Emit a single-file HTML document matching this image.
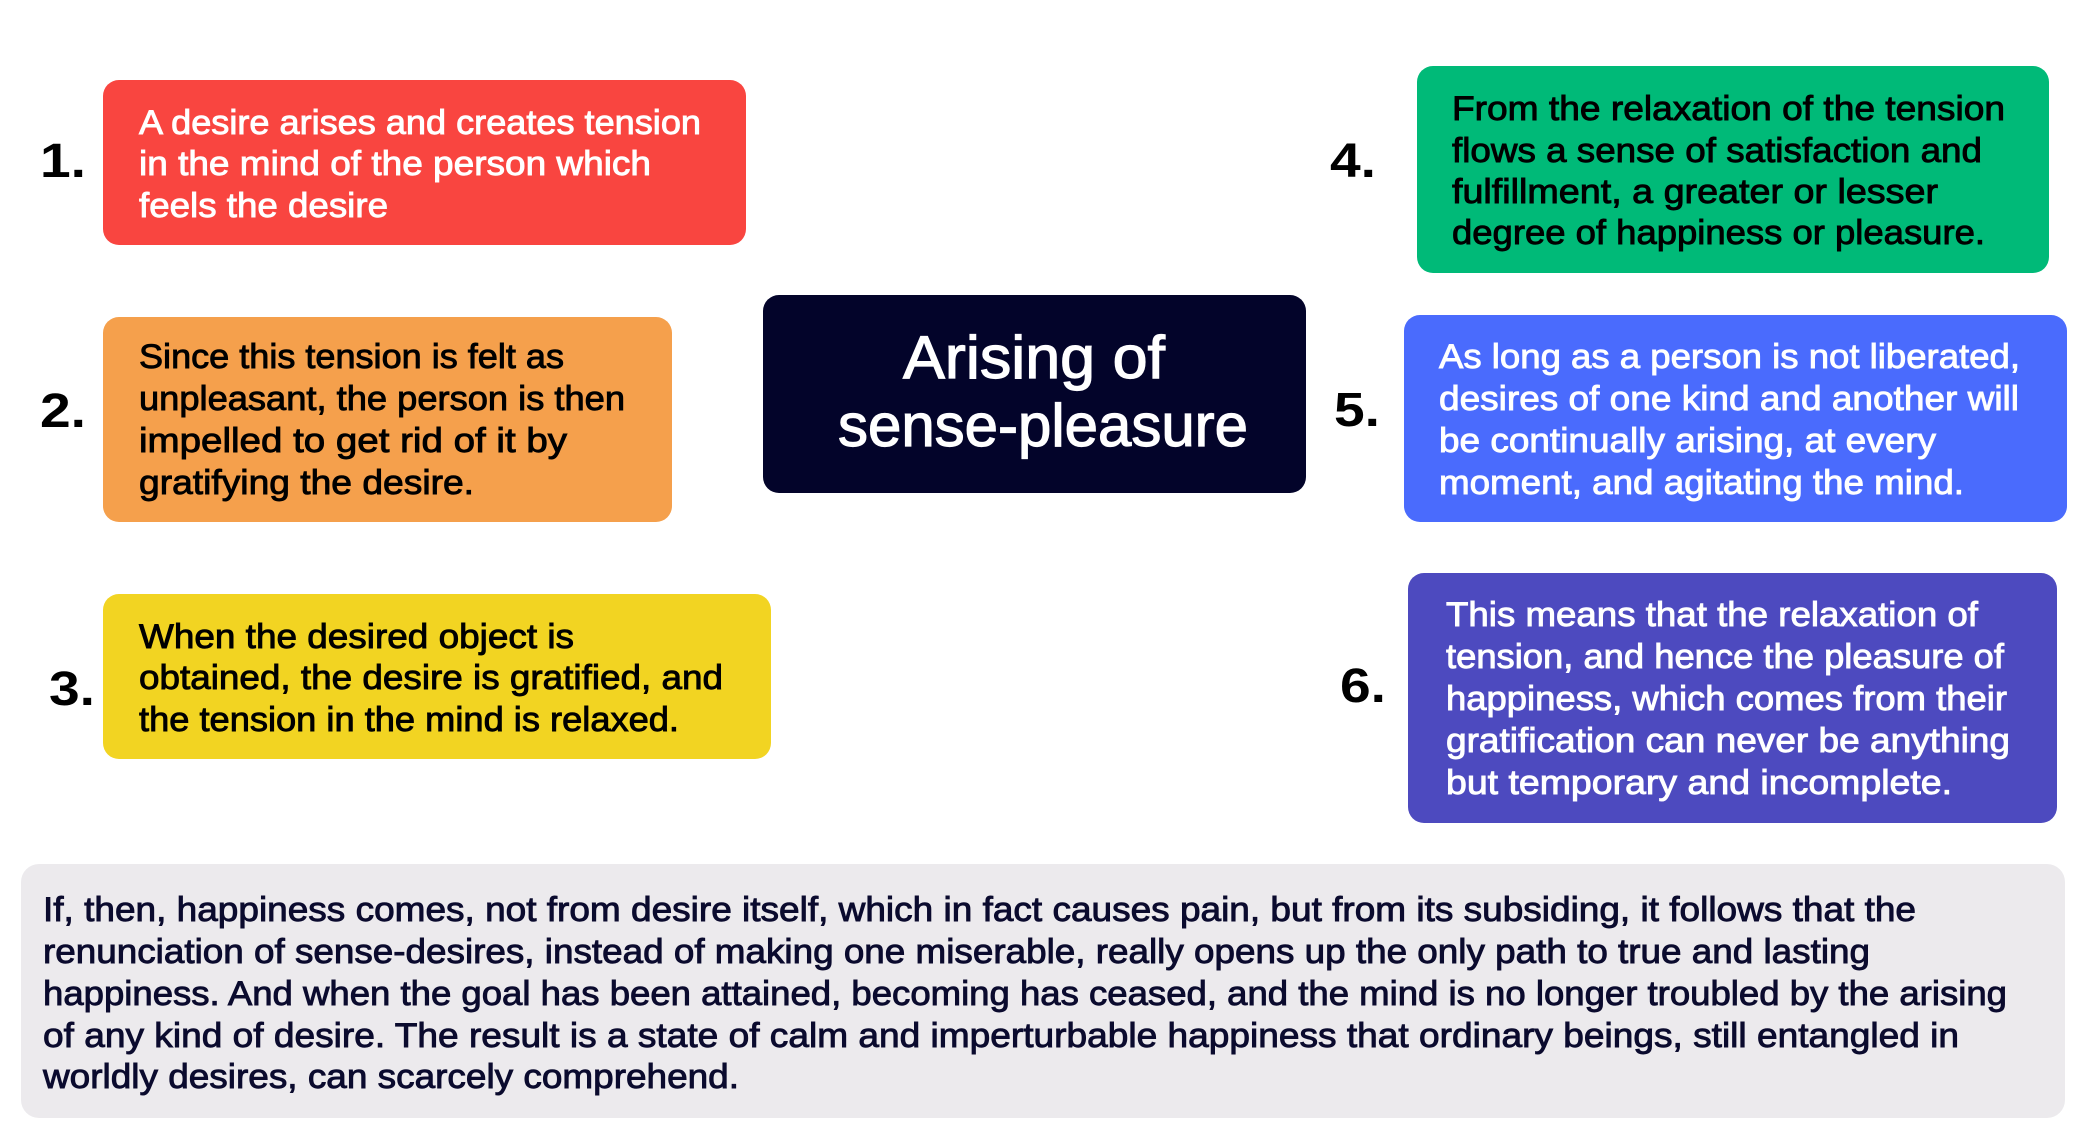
<!DOCTYPE html>
<html>
<head>
<meta charset="utf-8">
<style>
html,body{margin:0;padding:0;background:#fff;}
svg{display:block;}
text{font-family:"Liberation Sans",sans-serif;}
.w{fill:#fff;stroke:#fff;stroke-width:0.9;font-size:34px;}
.b{fill:#000;stroke:#000;stroke-width:0.9;font-size:34px;}
.g{fill:#0b0b2e;stroke:#0b0b2e;stroke-width:0.9;font-size:34px;}
.n{fill:#000;font-weight:bold;font-size:48px;}
</style>
</head>
<body>
<svg width="2095" height="1145" viewBox="0 0 2095 1145" xmlns="http://www.w3.org/2000/svg">
<rect x="0" y="0" width="2095" height="1145" fill="#fff"/>

<!-- boxes -->
<rect x="103" y="80" width="643" height="165" rx="16" fill="#F94540"/>
<rect x="103" y="317" width="569" height="205" rx="16" fill="#F5A04C"/>
<rect x="103" y="594" width="668" height="165" rx="16" fill="#F2D422"/>
<rect x="763" y="295" width="543" height="198" rx="16" fill="#03042A"/>
<rect x="1417" y="66" width="632" height="207" rx="16" fill="#00BA78"/>
<rect x="1404" y="315" width="663" height="207" rx="16" fill="#4A6BFD"/>
<rect x="1408" y="573" width="649" height="250" rx="16" fill="#4D4ABF"/>
<rect x="21" y="864" width="2044" height="254" rx="18" fill="#ECEAED"/>

<!-- numbers -->
<text class="n" x="40" y="177" textLength="46" lengthAdjust="spacingAndGlyphs">1.</text>
<text class="n" x="40" y="427" textLength="46" lengthAdjust="spacingAndGlyphs">2.</text>
<text class="n" x="49" y="705" textLength="46" lengthAdjust="spacingAndGlyphs">3.</text>
<text class="n" x="1330" y="177" textLength="46" lengthAdjust="spacingAndGlyphs">4.</text>
<text class="n" x="1334" y="426" textLength="46" lengthAdjust="spacingAndGlyphs">5.</text>
<text class="n" x="1340" y="702" textLength="46" lengthAdjust="spacingAndGlyphs">6.</text>

<!-- 1 red -->
<text class="w" x="139" y="134" textLength="562" lengthAdjust="spacingAndGlyphs">A desire arises and creates tension</text>
<text class="w" x="139" y="175" textLength="512" lengthAdjust="spacingAndGlyphs">in the mind of the person which</text>
<text class="w" x="139" y="217" textLength="249" lengthAdjust="spacingAndGlyphs">feels the desire</text>

<!-- 2 orange -->
<text class="b" x="139" y="368" textLength="425" lengthAdjust="spacingAndGlyphs">Since this tension is felt as</text>
<text class="b" x="139" y="410" textLength="486" lengthAdjust="spacingAndGlyphs">unpleasant, the person is then</text>
<text class="b" x="139" y="452" textLength="428" lengthAdjust="spacingAndGlyphs">impelled to get rid of it by</text>
<text class="b" x="139" y="494" textLength="335" lengthAdjust="spacingAndGlyphs">gratifying the desire.</text>

<!-- 3 yellow -->
<text class="b" x="139" y="648" textLength="435" lengthAdjust="spacingAndGlyphs">When the desired object is</text>
<text class="b" x="139" y="689" textLength="584" lengthAdjust="spacingAndGlyphs">obtained, the desire is gratified, and</text>
<text class="b" x="139" y="731" textLength="540" lengthAdjust="spacingAndGlyphs">the tension in the mind is relaxed.</text>

<!-- center -->
<text x="903" y="378" textLength="262" lengthAdjust="spacingAndGlyphs" style="fill:#fff;stroke:#fff;stroke-width:1.2;font-size:60px;">Arising of</text>
<text x="838" y="446" textLength="410" lengthAdjust="spacingAndGlyphs" style="fill:#fff;stroke:#fff;stroke-width:1.2;font-size:60px;">sense-pleasure</text>

<!-- 4 green -->
<text class="b" x="1452" y="120" textLength="553" lengthAdjust="spacingAndGlyphs">From the relaxation of the tension</text>
<text class="b" x="1452" y="162" textLength="530" lengthAdjust="spacingAndGlyphs">flows a sense of satisfaction and</text>
<text class="b" x="1452" y="203" textLength="486" lengthAdjust="spacingAndGlyphs">fulfillment, a greater or lesser</text>
<text class="b" x="1452" y="244" textLength="533" lengthAdjust="spacingAndGlyphs">degree of happiness or pleasure.</text>

<!-- 5 blue -->
<text class="w" x="1439" y="368" textLength="581" lengthAdjust="spacingAndGlyphs">As long as a person is not liberated,</text>
<text class="w" x="1439" y="410" textLength="580" lengthAdjust="spacingAndGlyphs">desires of one kind and another will</text>
<text class="w" x="1439" y="452" textLength="497" lengthAdjust="spacingAndGlyphs">be continually arising, at every</text>
<text class="w" x="1439" y="494" textLength="525" lengthAdjust="spacingAndGlyphs">moment, and agitating the mind.</text>

<!-- 6 purple -->
<text class="w" x="1446" y="626" textLength="532" lengthAdjust="spacingAndGlyphs">This means that the relaxation of</text>
<text class="w" x="1446" y="668" textLength="558" lengthAdjust="spacingAndGlyphs">tension, and hence the pleasure of</text>
<text class="w" x="1446" y="710" textLength="561" lengthAdjust="spacingAndGlyphs">happiness, which comes from their</text>
<text class="w" x="1446" y="752" textLength="564" lengthAdjust="spacingAndGlyphs">gratification can never be anything</text>
<text class="w" x="1446" y="794" textLength="506" lengthAdjust="spacingAndGlyphs">but temporary and incomplete.</text>

<!-- grey -->
<text class="g" x="43" y="921" textLength="1873" lengthAdjust="spacingAndGlyphs">If, then, happiness comes, not from desire itself, which in fact causes pain, but from its subsiding, it follows that the</text>
<text class="g" x="43" y="963" textLength="1827" lengthAdjust="spacingAndGlyphs">renunciation of sense-desires, instead of making one miserable, really opens up the only path to true and lasting</text>
<text class="g" x="43" y="1005" textLength="1964" lengthAdjust="spacingAndGlyphs">happiness. And when the goal has been attained, becoming has ceased, and the mind is no longer troubled by the arising</text>
<text class="g" x="43" y="1047" textLength="1916" lengthAdjust="spacingAndGlyphs">of any kind of desire. The result is a state of calm and imperturbable happiness that ordinary beings, still entangled in</text>
<text class="g" x="43" y="1088" textLength="696" lengthAdjust="spacingAndGlyphs">worldly desires, can scarcely comprehend.</text>
</svg>
</body>
</html>
